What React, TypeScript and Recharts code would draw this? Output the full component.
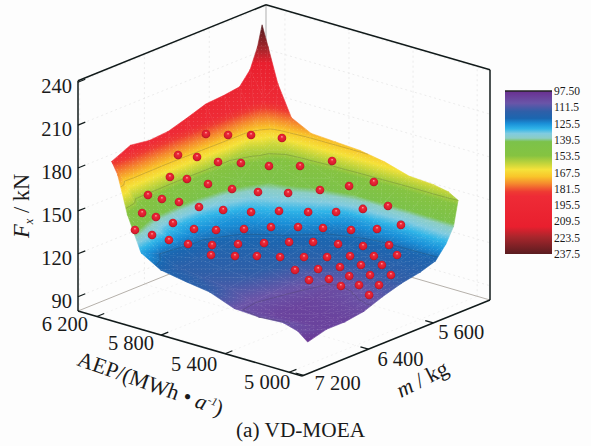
import { ScatterChart, Scatter, XAxis, YAxis, BarChart, Bar, ReferenceLine } from 'recharts';

// surface: rows follow AEP, columns follow m
const aepGrid = [6178, 6141, 6080, 5995, 5872, 5719, 5567, 5414, 5261, 5108, 5016, 4955];
const massGrid = [7081, 6849, 6617, 6385, 6153, 5921, 5689, 5503, 5373, 5281, 5225];
const forceGrid = [
  [186, 192, 190, 191, 195, 199.5, 200.5, 202, 211, 225, 239],
  [178, 155, 153, 150, 150, 152, 156, 158, 172, 190, 225],
  [152, 141, 132, 129, 131, 137, 144, 155, 158, 162, 201],
  [128, 122, 123, 123, 125.5, 127, 133.5, 140.5, 148, 158, 180],
  [120, 116, 117, 119, 121, 124, 129.5, 136.5, 145, 155, 173],
  [117, 114, 115.5, 117, 119, 121.5, 125.5, 130, 136, 147.5, 172],
  [114.5, 112, 113.8, 115.3, 117, 119, 121.3, 123.5, 127.5, 140, 171],
  [108, 107.4, 108.4, 109.6, 111, 116, 119.4, 122.5, 127, 137.7, 168],
  [107, 103, 103, 104, 105.5, 113, 117.5, 121.5, 126.7, 135.4, 163],
  [108, 103, 103, 104.5, 107.5, 113.5, 117, 121, 128, 138, 162],
  [105, 103, 103, 105, 109, 114, 117, 120.5, 129, 139, 160],
  [99.4, 103, 103, 105, 110, 114, 116.5, 120, 129, 139, 156],
];

// Pareto solutions (the red spheres)
const solutionAep = [
  6185, 6121, 6063, 6039, 6200, 6139, 6094, 6067, 5989, 5850, 5715, 6160, 6119, 6049, 5994, 5924, 5818, 5691, 5583, 5477,
  6168, 6120, 6070, 6016, 5966, 5910, 5818, 5690, 5563, 5455, 5352, 6092, 6044, 5993, 6094, 6025, 5983, 5991, 5928, 5848,
  5768, 5670, 5570, 5450, 5352, 5263, 5955, 5884, 5812, 5739, 5657, 5570, 5461, 5353, 5241, 5850, 5754, 5687, 5594, 5519,
  5435, 5361, 5262, 5174, 5474, 5399, 5325, 5254, 5165, 5372, 5308, 5249, 5169, 5068, 5228, 5158, 5060, 5045,
];
const solutionMass = [
  5904, 5758, 5589, 5255, 6219, 6105, 5935, 5706, 5514, 5405, 5277, 6398, 6269, 6148, 5960, 5778, 5616, 5474, 5328, 5232,
  6653, 6576, 6464, 6324, 6125, 5891, 5728, 5622, 5528, 5411, 5305, 6876, 6800, 6691, 6960, 6886, 6760, 6435, 6288, 6101,
  5926, 5786, 5676, 5567, 5440, 5321, 6580, 6424, 6246, 6069, 5922, 5798, 5705, 5611, 5511, 6504, 6398, 6260, 6158, 6011,
  5892, 5755, 5657, 5545, 6211, 6074, 5951, 5832, 5750, 6240, 6120, 5987, 5888, 5830, 6131, 6046, 5993, 6145,
];
const solutionForce = [
  178, 176, 174, 165, 170, 168, 162, 157, 153, 155, 160, 160, 157, 153, 147, 143, 142, 145, 148, 152,
  153, 150, 147, 142, 137, 132, 132, 133, 135, 138, 141, 148, 145, 140, 138, 135, 130, 130, 128, 127,
  127, 127, 127, 127, 128, 131, 124, 122, 121, 120, 120, 120, 120, 120, 122, 118, 118, 117, 117, 116,
  116, 116, 117, 118, 113, 113, 114, 115, 116, 110, 110, 111, 112, 114, 108, 109, 111, 108,
];

const forceTicks = [90, 120, 150, 180, 210, 240];
const aepTicks = [6200, 5800, 5400, 5000];
const massTicks = [7200, 6400, 5600];
const aepTickLabels = ['6 200', '5 800', '5 400', '5 000'];
const massTickLabels = ['7 200', '6 400', '5 600'];
const contourLevels = [170, 156, 122, 107];

const colorBarTicks = [97.5, 111.5, 125.5, 139.5, 153.5, 167.5, 181.5, 195.5, 209.5, 223.5, 237.5];
const rampValues = [97.5, 108, 115, 121, 125.5, 130, 134, 138, 141, 153, 160, 165, 171, 177, 184, 188, 214, 223, 237.5];
const rampColors = [
  '#6a2f90', '#6a55a8', '#2f5fa8', '#1b66b0', '#1a90d8', '#30b5e8', '#80cbe0', '#8ccdc4', '#7cc24a', '#85c341',
  '#c5d53b', '#f5e23a', '#f9c52a', '#f58a2e', '#ee3a33', '#ee2b36', '#e91f2e', '#a8262c', '#5a1c20',
];

// box limits and the oblique view of the 3D axes
const AEP_MAX = 6318;
const AEP_MIN = 4920;
const MASS_MAX = 7220;
const MASS_MIN = 4900;
const FORCE_MIN = 80;
const FORCE_MAX = 241;

const project = (aep: number, mass: number, force: number) => {
  const a = (AEP_MAX - aep) / (AEP_MAX - AEP_MIN);
  const b = (MASS_MAX - mass) / (MASS_MAX - MASS_MIN);
  return { x: 78 + 224 * a + 188 * b, y: 311 + 65 * a - 76 * b - 1.43 * (force - FORCE_MIN) };
};

const hexToRgb = (hex: string) => [1, 3, 5].map((i) => parseInt(hex.slice(i, i + 2), 16));

const colorAt = (v: number) => {
  if (v <= rampValues[0]) return rampColors[0];
  for (let i = 1; i < rampValues.length; i++) {
    if (v <= rampValues[i]) {
      const k = (v - rampValues[i - 1]) / (rampValues[i] - rampValues[i - 1]);
      const c0 = hexToRgb(rampColors[i - 1]);
      const c1 = hexToRgb(rampColors[i]);
      return `rgb(${c0.map((c, n) => Math.round(c + (c1[n] - c) * k)).join(',')})`;
    }
  }
  return rampColors[rampColors.length - 1];
};

const surfaceNodes = aepGrid.flatMap((aep, i) =>
  massGrid.map((mass, j) => ({ ...project(aep, mass, forceGrid[i][j]), force: forceGrid[i][j] })),
);

const solutions = solutionAep.map((aep, i) => project(aep, solutionMass[i], solutionForce[i]));

type Pt = { x: number; y: number };

// one triangle, shaded with a gradient running along the steepest change of force
function shadedTriangle(tri: Pt[], vals: number[], id: string) {
  const d = `M${tri.map((p) => `${p.x},${p.y}`).join('L')}Z`;
  const vMin = Math.min(...vals);
  const vMax = Math.max(...vals);
  const ux = tri[1].x - tri[0].x;
  const uy = tri[1].y - tri[0].y;
  const wx = tri[2].x - tri[0].x;
  const wy = tri[2].y - tri[0].y;
  const det = ux * wy - uy * wx;
  if (Math.abs(det) < 1e-6) return null;
  if (vMax - vMin < 0.01) {
    return <path key={id} d={d} fill={colorAt(vMin)} stroke={colorAt(vMin)} strokeWidth={0.6} />;
  }
  const dv1 = vals[1] - vals[0];
  const dv2 = vals[2] - vals[0];
  const gx = (dv1 * wy - dv2 * uy) / det;
  const gy = (dv2 * ux - dv1 * wx) / det;
  const g2 = gx * gx + gy * gy;
  const start = tri[vals.indexOf(vMin)];
  const span = vMax - vMin;
  const offsets = [vMin, ...rampValues.filter((v) => v > vMin && v < vMax), vMax];
  return (
    <g key={id}>
      <linearGradient
        id={id}
        gradientUnits="userSpaceOnUse"
        x1={start.x}
        y1={start.y}
        x2={start.x + (gx / g2) * span}
        y2={start.y + (gy / g2) * span}
      >
        {offsets.map((v, n) => (
          <stop key={n} offset={(v - vMin) / span} stopColor={colorAt(v)} />
        ))}
      </linearGradient>
      <path d={d} fill={`url(#${id})`} stroke={`url(#${id})`} strokeWidth={0.6} />
    </g>
  );
}

function contourSegments(tri: Pt[], vals: number[], level: number) {
  const hits: Pt[] = [];
  for (let n = 0; n < 3; n++) {
    const m = (n + 1) % 3;
    if (vals[n] < level !== vals[m] < level) {
      const k = (level - vals[n]) / (vals[m] - vals[n]);
      hits.push({ x: tri[n].x + (tri[m].x - tri[n].x) * k, y: tri[n].y + (tri[m].y - tri[n].y) * k });
    }
  }
  return hits.length === 2 ? `M${hits[0].x},${hits[0].y}L${hits[1].x},${hits[1].y}` : '';
}

// Scatter hands over the scaled node positions, the mesh is built from them back to front
function renderSurface(props: any) {
  const pts: Pt[] = props.points;
  const nRows = aepGrid.length;
  const nCols = massGrid.length;
  const tris = [];
  let contour = '';
  let mesh = '';
  for (let i = 0; i < nRows - 1; i++) {
    for (let j = nCols - 2; j >= 0; j--) {
      const k00 = i * nCols + j;
      const k01 = k00 + 1;
      const k10 = k00 + nCols;
      const k11 = k10 + 1;
      for (const [name, ids] of [
        ['a', [k00, k01, k11]],
        ['b', [k00, k11, k10]],
      ] as [string, number[]][]) {
        const tri = ids.map((id) => pts[id]);
        const vals = ids.map((id) => surfaceNodes[id].force);
        tris.push(shadedTriangle(tri, vals, `tri-${i}-${j}-${name}`));
        contourLevels.forEach((lv) => {
          contour += contourSegments(tri, vals, lv);
        });
      }
      mesh += `M${pts[k00].x},${pts[k00].y}L${pts[k01].x},${pts[k01].y}L${pts[k11].x},${pts[k11].y}L${pts[k10].x},${pts[k10].y}Z`;
    }
  }
  return (
    <g>
      {tris}
      <path d={mesh} fill="url(#meshDots)" stroke="none" />
      <path d={contour} fill="none" stroke="#333" strokeOpacity={0.35} strokeWidth={0.6} />
    </g>
  );
}

const NoMark = () => null;

const Sphere = (props: any) => <circle cx={props.cx} cy={props.cy} r={4.3} fill="url(#sphereShade)" />;

const TickText = (props: any) => {
  const { label, dx, dy, anchor } = props.payload;
  return (
    <text x={props.cx + dx} y={props.cy + dy} textAnchor={anchor} fontSize={20.5} fill="#1a1a1a">
      {label}
    </text>
  );
};

const seg = (key: string, from: Pt, to: Pt, stroke: string, width: number, dash?: string) => (
  <Scatter
    key={key}
    data={[from, to]}
    dataKey="y"
    shape={NoMark}
    isAnimationActive={false}
    line={{ stroke, strokeWidth: width, strokeDasharray: dash }}
  />
);

const P = project;
const wallGrid = [
  ...forceTicks.flatMap((f) => [
    seg(`gf${f}a`, P(AEP_MAX, MASS_MAX, f), P(AEP_MAX, MASS_MIN, f), '#e4e4e4', 0.7, '2 3'),
    seg(`gf${f}b`, P(AEP_MAX, MASS_MIN, f), P(AEP_MIN, MASS_MIN, f), '#e4e4e4', 0.7, '2 3'),
  ]),
  ...aepTicks.flatMap((v) => [
    seg(`ga${v}a`, P(v, MASS_MAX, FORCE_MIN), P(v, MASS_MIN, FORCE_MIN), '#ececec', 0.7, '2 3'),
    seg(`ga${v}b`, P(v, MASS_MIN, FORCE_MIN), P(v, MASS_MIN, FORCE_MAX), '#e4e4e4', 0.7, '2 3'),
  ]),
  ...massTicks.flatMap((v) => [
    seg(`gm${v}a`, P(AEP_MIN, v, FORCE_MIN), P(AEP_MAX, v, FORCE_MIN), '#ececec', 0.7, '2 3'),
    seg(`gm${v}b`, P(AEP_MAX, v, FORCE_MIN), P(AEP_MAX, v, FORCE_MAX), '#e4e4e4', 0.7, '2 3'),
  ]),
];

const INK = '#111a1a';
const boxBack = [
  seg('bb1', P(AEP_MAX, MASS_MAX, FORCE_MIN), P(AEP_MAX, MASS_MIN, FORCE_MIN), '#b5b0aa', 1),
  seg('bb2', P(AEP_MAX, MASS_MIN, FORCE_MIN), P(AEP_MIN, MASS_MIN, FORCE_MIN), '#b5b0aa', 1),
  seg('bb3', P(AEP_MAX, MASS_MIN, FORCE_MIN), P(AEP_MAX, MASS_MIN, FORCE_MAX), '#c4c4c4', 1.4),
];
const boxFront = [
  seg('bf1', P(AEP_MAX, MASS_MAX, FORCE_MAX), P(AEP_MAX, MASS_MIN, FORCE_MAX), INK, 1.5),
  seg('bf2', P(AEP_MAX, MASS_MIN, FORCE_MAX), P(AEP_MIN, MASS_MIN, FORCE_MAX), INK, 1.5),
  seg('bf3', P(AEP_MAX, MASS_MAX, FORCE_MIN), P(AEP_MAX, MASS_MAX, FORCE_MAX), INK, 1.5),
  seg('bf4', P(AEP_MIN, MASS_MIN, FORCE_MIN), P(AEP_MIN, MASS_MIN, FORCE_MAX), INK, 1.5),
  seg('bf5', P(AEP_MAX, MASS_MAX, FORCE_MIN), P(AEP_MIN, MASS_MAX, FORCE_MIN), INK, 1.5),
  seg('bf6', P(AEP_MIN, MASS_MAX, FORCE_MIN), P(AEP_MIN, MASS_MIN, FORCE_MIN), INK, 1.5),
  ...forceTicks.map((f) => seg(`tf${f}`, P(AEP_MAX, MASS_MAX, f), P(AEP_MAX, MASS_MAX - 90, f), INK, 1.2)),
  ...aepTicks.map((v) => seg(`ta${v}`, P(v, MASS_MAX, FORCE_MIN), P(v, MASS_MAX - 90, FORCE_MIN), INK, 1.2)),
  ...massTicks.map((v) => seg(`tm${v}`, P(AEP_MIN, v, FORCE_MIN), P(AEP_MIN + 50, v, FORCE_MIN), INK, 1.2)),
];

const aepLabelDx = [-32, -30, -31, -22];
const aepLabelDy = [15, 15, 17, 17];
const massLabelDx = [34, 32, 28];
const massLabelDy = [15, 17, 16];

const forceLabelData = forceTicks.map((f) => ({
  ...P(AEP_MAX, MASS_MAX, f),
  label: String(f),
  dx: -6,
  dy: 11,
  anchor: 'end',
}));
const aepLabelData = aepTicks.map((v, i) => ({
  ...P(v, MASS_MAX, FORCE_MIN),
  label: aepTickLabels[i],
  dx: aepLabelDx[i],
  dy: aepLabelDy[i],
  anchor: 'middle',
}));
const massLabelData = massTicks.map((v, i) => ({
  ...P(AEP_MIN, v, FORCE_MIN),
  label: massTickLabels[i],
  dx: massLabelDx[i],
  dy: massLabelDy[i],
  anchor: 'middle',
}));

export default function App() {
  return (
    <div
      style={{
        position: 'absolute',
        left: 0,
        top: 0,
        width: 591,
        height: 446,
        background: '#fdfdfd',
        fontFamily: '"Liberation Serif", serif',
        overflow: 'hidden',
      }}
    >
      <ScatterChart width={591} height={446} margin={{ top: 0, right: 0, bottom: 0, left: 0 }}>
        <defs>
          <radialGradient id="sphereShade" cx="50%" cy="50%" r="55%" fx="50%" fy="34%">
            <stop offset="0%" stopColor="#ffd9d9" />
            <stop offset="22%" stopColor="#ee2b3a" />
            <stop offset="75%" stopColor="#d81a2c" />
            <stop offset="100%" stopColor="#8e1420" />
          </radialGradient>
          <pattern id="meshDots" width="4" height="4" patternUnits="userSpaceOnUse">
            <circle cx="1.5" cy="1.5" r="0.6" fill="#fff" fillOpacity={0.16} />
          </pattern>
        </defs>
        <XAxis type="number" dataKey="x" domain={[0, 591]} hide />
        <YAxis type="number" dataKey="y" domain={[0, 446]} reversed hide />
        {wallGrid}
        {boxBack}
        <Scatter data={surfaceNodes} dataKey="y" shape={NoMark} line={renderSurface} isAnimationActive={false} />
        {boxFront}
        <Scatter data={solutions} dataKey="y" shape={Sphere} isAnimationActive={false} />
        <Scatter data={forceLabelData} dataKey="y" shape={TickText} isAnimationActive={false} />
        <Scatter data={aepLabelData} dataKey="y" shape={TickText} isAnimationActive={false} />
        <Scatter data={massLabelData} dataKey="y" shape={TickText} isAnimationActive={false} />
      </ScatterChart>

      <div style={{ position: 'absolute', left: 505, top: 81 }}>
        <BarChart
          width={84}
          height={183}
          data={[{ band: 'Fx', range: [colorBarTicks[0], colorBarTicks[10]] }]}
          margin={{ top: 10, right: 0, bottom: 10, left: 0 }}
          barCategoryGap={0}
        >
          <defs>
            <linearGradient id="barRamp" x1="0" y1="0" x2="0" y2="1">
              {rampValues.map((v, i) => (
                <stop key={v} offset={(v - 97.5) / 140} stopColor={rampColors[i]} />
              ))}
            </linearGradient>
          </defs>
          <XAxis dataKey="band" hide />
          <YAxis
            orientation="right"
            type="number"
            domain={[97.5, 237.5]}
            reversed
            ticks={colorBarTicks}
            interval={0}
            width={37}
            axisLine={false}
            tickLine={false}
            tickSize={0}
            tickMargin={2}
            tick={{ fontSize: 11.5, fill: '#1a1a1a', fontFamily: '"Liberation Serif", serif' }}
            tickFormatter={(v: number) => (v === 97.5 ? '97.50' : v.toFixed(1))}
          />
          <Bar dataKey="range" fill="url(#barRamp)" isAnimationActive={false} />
          <ReferenceLine y={97.5} stroke="#222" strokeWidth={1.5} />
        </BarChart>
      </div>

      <svg width={591} height={446} style={{ position: 'absolute', left: 0, top: 0, pointerEvents: 'none' }}>
        <text transform="translate(29,238) rotate(-90)" fontSize={22.5} fill="#1a1a1a">
          <tspan fontStyle="italic">F</tspan>
          <tspan fontStyle="italic" fontSize={12.5} dy={4}>
            x
          </tspan>
          <tspan dy={-4}> / kN</tspan>
        </text>
        <text transform="translate(76,365) rotate(19.5)" fontSize={22} fill="#1a1a1a">
          AEP/(MWh • <tspan fontStyle="italic">a</tspan>
          <tspan fontSize={11.5} dy={-8} fontStyle="italic">
            -1
          </tspan>
          <tspan dy={8}>)</tspan>
        </text>
        <text transform="translate(401,398) rotate(-27)" fontSize={22} fill="#1a1a1a">
          <tspan fontStyle="italic">m</tspan> / kg
        </text>
        <text x={300.5} y={437} textAnchor="middle" fontSize={21.3} fill="#1a1a1a">
          (a) VD-MOEA
        </text>
      </svg>
    </div>
  );
}
